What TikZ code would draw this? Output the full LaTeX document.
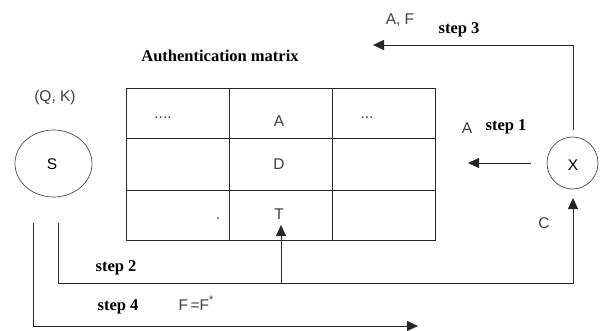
\documentclass[tikz,border=0pt]{standalone}
\usepackage{fontspec}
\setmainfont{Liberation Serif}
\setsansfont{Liberation Sans}
\usetikzlibrary{arrows.meta,shapes.geometric}
\begin{document}
\begin{tikzpicture}[x=1pt,y=-1pt,
  lbl/.style={font=\sffamily\fontsize{15.5}{18}\selectfont, text=black!75, inner sep=0pt},
  steplbl/.style={font=\bfseries\fontsize{16.5}{19}\selectfont, inner sep=0pt},
  party/.style={ellipse, draw=black!70, line width=0.7pt, inner sep=0pt},
  gridline/.style={draw=black!85, line width=0.8pt},
  conn/.style={draw=black!85, line width=0.8pt},
  arr/.style={conn, -{Triangle[length=11pt,width=10pt]}}]
\useasboundingbox (0,0) rectangle (601,330);

% parties
\node[party, minimum width=77pt, minimum height=67pt] (S) at (53.5,163.5) {};
\node[lbl, text=black] (Slbl) at (52,164) {S};
\node[party, minimum width=51pt, minimum height=52pt] (X) at (572.5,163) {};
\node[lbl, text=black] (Xlbl) at (573,165) {X};

% table
\node[gridline, draw, rectangle, minimum width=309pt, minimum height=152pt, inner sep=0pt] (tbl) at (280.5,164) {};
\coordinate (c1t) at (229,88); \coordinate (c1b) at (229,240);
\coordinate (c2t) at (332,88); \coordinate (c2b) at (332,240);
\coordinate (r1l) at (126,138); \coordinate (r1r) at (435,138);
\coordinate (r2l) at (126,190); \coordinate (r2r) at (435,190);
\draw[gridline] (c1t) -- (c1b);
\draw[gridline] (c2t) -- (c2b);
\draw[gridline] (r1l) -- (r1r);
\draw[gridline] (r2l) -- (r2r);

% texts
\node[steplbl] (title) at (220,56) {Authentication matrix};
\node[lbl] (qk) at (55,97) {(Q, K)};
\node[lbl, anchor=base] (d1) at (163,118) {....};
\node[lbl] (ca) at (279,121) {A};
\node[lbl, anchor=base] (d2) at (367,118) {...};
\node[lbl] (cd) at (279,164) {D};
\node[lbl, anchor=base] (d3) at (218,219) {.};
\node[lbl] (ct) at (279,214) {T};

\node[lbl] (a1) at (467,128) {A};
\node[steplbl] (s1) at (506,127) {step 1};
\node[lbl] (af) at (400,20) {A, F};
\node[steplbl] (s3) at (459,30) {step 3};
\node[lbl] (cc) at (544,223) {C};
\node[steplbl] (s2) at (116,268) {step 2};
\node[steplbl] (s4) at (118,307) {step 4};
\node[lbl] (ff) at (196,303) {F\,=F\raisebox{0.45em}{\fontsize{11}{12}\selectfont *}};

% step 1
\coordinate (s1a) at (531,163);
\coordinate (s1b) at (468,163);
\draw[arr] (s1a) -- (s1b);

% step 3
\coordinate (s3a) at (573,130);
\coordinate (s3c) at (573,45);
\coordinate (s3b) at (373,45);
\draw[arr] (s3a) -- (s3c) -- (s3b);

% step 2
\coordinate (s2a) at (58,223);
\coordinate (s2c) at (58,283);
\coordinate (s2d) at (573,283);
\coordinate (s2e) at (573,198);
\coordinate (s2f) at (281,283);
\coordinate (s2g) at (281,225);
\draw[arr] (s2a) -- (s2c) -- (s2d) -- (s2e);
\draw[arr] (s2f) -- (s2g);

% step 4
\coordinate (s4a) at (33,223);
\coordinate (s4c) at (33,326);
\coordinate (s4b) at (418,326);
\draw[arr] (s4a) -- (s4c) -- (s4b);
\end{tikzpicture}
\end{document}
